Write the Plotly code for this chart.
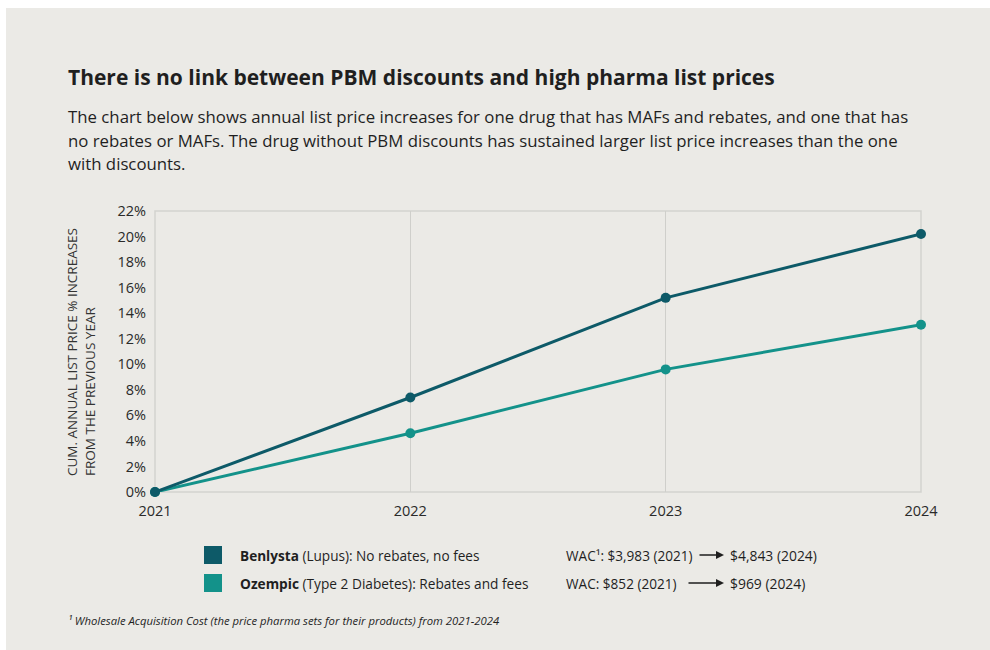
import plotly.graph_objects as go

years = [2021, 2022, 2023, 2024]
benlysta = [0, 7.4, 15.2, 20.2]
ozempic = [0, 4.6, 9.6, 13.1]
y_ticks = list(range(0, 23, 2))
y_tick_labels = [f"{v}%" for v in y_ticks]

DARK = "#0d5a68"
TEAL = "#13928a"
BG = "#ebeae6"
TXT = "#1f1f1f"
FONT = "Open Sans"

W, H = 990, 650
L, R, T, B = 155, 69, 211, 158
PW, PH = W - L - R, H - T - B


def px(x):
    return (x - L) / PW


def py(y):
    return (H - B - y) / PH


fig = go.Figure()
fig.add_trace(go.Scatter(x=years, y=ozempic, mode="lines+markers",
                         line=dict(color=TEAL, width=3),
                         marker=dict(color=TEAL, size=10),
                         cliponaxis=False, showlegend=False))
fig.add_trace(go.Scatter(x=years, y=benlysta, mode="lines+markers",
                         line=dict(color=DARK, width=3),
                         marker=dict(color=DARK, size=10),
                         cliponaxis=False, showlegend=False))

shapes = [
    dict(type="rect", xref="paper", yref="paper", x0=px(6), x1=px(990), y0=py(650), y1=py(8),
         fillcolor=BG, line=dict(width=0), layer="below"),
    dict(type="rect", xref="paper", yref="paper", x0=0, x1=1, y0=0, y1=1,
         line=dict(color="#d3d3cf", width=1.5), layer="below"),
    dict(type="rect", xref="paper", yref="paper", x0=px(204), x1=px(222), y0=py(564), y1=py(546),
         fillcolor=DARK, line=dict(width=0)),
    dict(type="rect", xref="paper", yref="paper", x0=px(204), x1=px(222), y0=py(592), y1=py(574),
         fillcolor=TEAL, line=dict(width=0)),
]

ann = []


def text(x, y, s, size, xanchor="left", yanchor="middle", color=TXT, family=FONT, **kw):
    ann.append(dict(x=px(x), y=py(y), xref="paper", yref="paper", text=s, showarrow=False,
                    xanchor=xanchor, yanchor=yanchor, align="left",
                    font=dict(family=family, size=size, color=color), **kw))


text(66, 77, "<b>There is no link between PBM discounts and high pharma list prices</b>", 21)
sub = ["The chart below shows annual list price increases for one drug that has MAFs and rebates, and one that has",
       "no rebates or MAFs. The drug without PBM discounts has sustained larger list price increases than the one",
       "with discounts."]
for i, line in enumerate(sub):
    text(66, 117 + 23 * i, line, 16.8)
text(238, 555, "<b>Benlysta</b> (Lupus): No rebates, no fees", 13.6)
text(238, 583, "<b>Ozempic</b> (Type 2 Diabetes): Rebates and fees", 13.7)
text(564, 555, "WAC¹: $3,983 (2021)", 13.6)
text(728, 555, "$4,843 (2024)", 13.9)
text(564, 583, "WAC: $852 (2021)", 13.6)
text(728, 583, "$969 (2024)", 13.9)
text(66, 620, "<i>¹ Wholesale Acquisition Cost (the price pharma sets for their products) from 2021-2024</i>", 11.3)
text(81, 352, "CUM. ANNUAL LIST PRICE % INCREASES<br>FROM THE PREVIOUS YEAR", 13.5,
     xanchor="center", color="#333333", textangle=-90)

for (x0, x1, y) in [(698, 724, 555), (687, 724, 583)]:
    ann.append(dict(x=px(x1), y=py(y), xref="paper", yref="paper", ax=x0 - x1, ay=0,
                    axref="pixel", ayref="pixel", text="", showarrow=True,
                    arrowhead=2, arrowsize=1, arrowwidth=1.6, arrowcolor=TXT))

fig.update_layout(
    width=W, height=H,
    margin=dict(l=L, r=R, t=T, b=B),
    paper_bgcolor="white", plot_bgcolor=BG,
    shapes=shapes, annotations=ann,
    font=dict(family=FONT, size=14, color="#2a2a2a"),
    xaxis=dict(range=[2021, 2024], tickvals=years, ticktext=[str(y) for y in years],
               showgrid=True, gridcolor="#cfcfcb", gridwidth=1, zeroline=False,
               showline=False, ticks="", tickfont=dict(size=14.5, color="#2a2a2a"), ticklabelstandoff=8),
    yaxis=dict(range=[0, 22], tickvals=y_ticks, ticktext=y_tick_labels,
               showgrid=False, zeroline=False, showline=False, ticks="",
               tickfont=dict(size=14.5, color="#2a2a2a"), ticklabelstandoff=8),
)

fig.write_html("out.html")
